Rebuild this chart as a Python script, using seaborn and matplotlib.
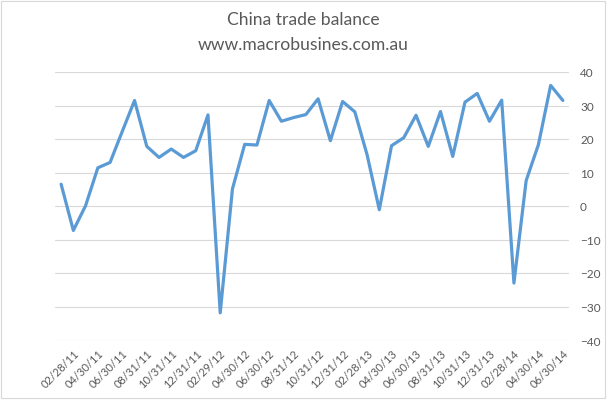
import pandas as pd
import matplotlib
matplotlib.use("Agg")
import matplotlib.pyplot as plt
import seaborn as sns
from matplotlib.patches import Rectangle

# monthly China trade balance, USD bn
dates = pd.date_range("2011-01-31", periods=42, freq="ME")
balance = [6.5, -7.3, 0.1, 11.4, 13.0, 22.3, 31.5, 17.8, 14.5, 17.0, 14.5, 16.5,
           27.2, -31.9, 5.1, 18.4, 18.2, 31.5, 25.3, 26.4, 27.3, 32.0, 19.5, 31.2,
           28.1, 15.3, -1.1, 18.0, 20.4, 27.1, 17.8, 28.2, 14.8, 31.0, 33.6, 25.3,
           31.6, -23.0, 7.6, 18.3, 36.0, 31.5]
y_ticks = list(range(-40, 41, 10))

df = pd.DataFrame({"pos": range(len(dates)), "date": dates, "balance": balance})

sns.set_style("white")
plt.rcParams["font.family"] = ["Lato", "DejaVu Sans"]
grey = "#595959"

fig = plt.figure(figsize=(6.07, 4.02), dpi=100)
ax = fig.add_axes([55 / 607, 1 - 341 / 402, (569 - 55) / 607, (341 - 73) / 402])

sns.lineplot(data=df, x="pos", y="balance", ax=ax, color="#5B9BD5", linewidth=2.3)

ax.set_xlim(-0.5, len(dates) - 0.5)
ax.set_ylim(-40, 40)
ax.set_yticks(y_ticks)
ax.yaxis.tick_right()
ax.yaxis.grid(True, color="#D9D9D9", linewidth=0.8)
ax.tick_params(axis="y", length=0, pad=8, labelsize=8.5, labelcolor=grey)
for t in ax.get_yticklabels():
    t.set_horizontalalignment("left")

xt = df["pos"][1::2]
ax.set_xticks(xt)
ax.set_xticklabels(df["date"][1::2].dt.strftime("%m/%d/%y"), rotation=45,
                   ha="right", rotation_mode="anchor", fontsize=8, color=grey)
ax.tick_params(axis="x", length=0, pad=5)
ax.set_xlabel("")
ax.set_ylabel("")
sns.despine(ax=ax, left=True, bottom=True, right=True, top=True)

fig.text(0.499, 1 - 20 / 402, "China trade balance", ha="center", va="center",
         fontsize=12.6, color=grey)
fig.text(0.499, 1 - 45 / 402, "www.macrobusines.com.au", ha="center", va="center",
         fontsize=12.6, color=grey)

fig.patches.append(Rectangle((1 / 607, 1 - 399 / 402), 604 / 607, 397 / 402,
                             transform=fig.transFigure, fill=False,
                             edgecolor="#D9D9D9", linewidth=0.8))

fig.savefig("out.png", dpi=100)
